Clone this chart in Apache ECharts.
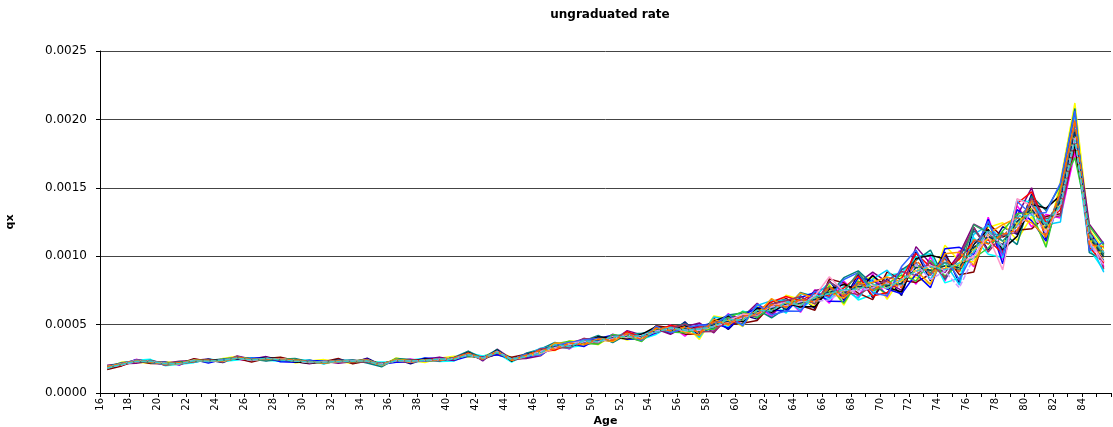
<!DOCTYPE html>
<html>
<head>
<meta charset="utf-8">
<title>ungraduated rate</title>
<script src="https://cdn.jsdelivr.net/npm/echarts@6/dist/echarts.min.js"></script>
<style>
  html, body { margin: 0; padding: 0; background: #fff; }
  #chart { width: 1113px; height: 427px; }
</style>
</head>
<body>
<div id="chart"></div>
<script>
// Ages 16..85 (one category per age)
const ages = [16,17,18,19,20,21,22,23,24,25,26,27,28,29,30,31,32,33,34,35,36,37,38,39,40,
  41,42,43,44,45,46,47,48,49,50,51,52,53,54,55,56,57,58,59,60,61,62,63,64,65,66,67,68,69,70,
  71,72,73,74,75,76,77,78,79,80,81,82,83,84,85];

// Tick labels shown under the axis (every second age)
const ageTicks = [16,18,20,22,24,26,28,30,32,34,36,38,40,42,44,46,48,50,52,54,56,58,60,62,64,66,68,70,72,74,76,78,80,82,84];

// Y axis ticks
const qxTicks = [0, 0.0005, 0.0010, 0.0015, 0.0020, 0.0025];

// Ungraduated rates per simulation, in millionths (value * 1e-6 = qx)
const sim01 = [176,218,228,240,208,229,226,242,222,262,252,238,251,226,242,218,246,222,254,204,248,214,250,238,264,272,260,282,254,264,324,322,370,344,413,390,444,385,476,437,520,414,545,465,570,540,683,607,710,617,820,680,868,695,835,712,1033,820,1030,802,1210,1045,1215,1160,1455,1125,1490,2040,1078,1065];
const sim02 = [196,200,246,222,222,205,248,228,246,246,234,264,235,248,220,240,222,244,222,220,230,248,228,260,240,300,240,312,232,290,280,362,322,388,361,430,400,433,436,497,415,502,455,580,495,645,557,695,590,755,657,818,705,870,697,913,795,995,817,1040,922,1285,975,1370,1215,1305,1280,1760,1208,922];
const sim03 = [184,226,224,218,228,221,242,224,252,268,230,256,259,220,234,244,230,216,244,196,256,238,222,254,268,264,268,308,260,256,312,310,382,376,353,420,388,417,488,449,500,392,563,545,485,635,595,715,685,635,795,643,830,845,685,850,845,795,1080,965,960,1210,1245,1115,1290,1080,1550,2120,1195,1052];
const sim04 = [190,206,240,246,200,211,222,250,230,242,258,242,231,242,240,212,240,238,226,226,226,242,254,230,234,292,270,292,226,280,316,348,334,348,401,372,432,393,428,489,450,477,520,485,600,560,658,583,723,718,683,780,680,720,860,875,995,1020,805,840,1135,1015,990,1415,1395,1260,1355,1840,1052,896];
const sim05 = [202,214,218,234,218,233,238,248,226,270,246,266,242,230,214,232,218,230,248,200,244,226,246,262,244,304,234,320,248,252,272,354,360,396,391,380,456,425,468,429,485,512,440,560,555,655,575,665,623,750,770,705,805,883,810,750,1070,945,880,1015,1235,1180,1035,1295,1500,1155,1460,1980,1234,1091];
const sim06 = [172,198,236,216,214,215,250,232,240,252,226,252,261,238,222,228,252,214,234,214,236,234,234,242,256,278,246,286,262,284,308,318,374,356,369,412,408,381,492,477,430,432,535,500,510,530,645,690,640,605,833,805,730,683,885,825,808,870,1005,865,885,1240,1140,1190,1200,1290,1310,1800,1156,961];
const sim07 = [194,222,232,238,204,225,230,238,248,260,248,234,247,252,228,216,236,242,220,192,252,244,242,234,260,305,254,318,236,290,320,370,342,380,421,368,428,437,448,473,510,442,475,570,585,610,550,620,735,700,720,843,893,795,723,900,970,1045,830,990,1185,1090,1170,1085,1440,1335,1520,2080,1026,974];
const sim08 = [180,208,244,226,226,207,244,220,244,248,254,260,229,224,236,236,224,234,240,210,224,226,256,250,238,268,264,280,250,260,288,326,366,340,397,424,392,397,440,485,460,492,510,475,565,625,608,595,698,735,670,668,843,820,760,725,870,770,1055,1065,1010,1270,945,1340,1260,1110,1430,1880,1182,1026];
const sim09 = [193,211,228,236,211,218,227,240,235,266,240,248,250,235,222,234,238,224,243,203,247,224,235,250,251,290,245,302,249,274,328,342,326,392,377,408,440,421,480,453,495,407,555,535,500,640,675,680,605,705,808,755,693,833,898,775,945,833,955,790,1160,1225,1110,1220,1410,1230,1250,2020,1104,883];
const sim10 = [187,219,236,222,216,224,235,231,245,261,251,247,247,240,232,224,227,237,239,215,236,233,232,242,256,272,255,308,236,280,292,358,378,364,357,428,412,377,472,445,440,467,465,550,595,550,633,633,685,655,783,655,818,745,798,863,820,970,855,940,985,1060,1185,1310,1320,1065,1505,1720,1221,1078];
const sim11 = [190,202,242,231,205,215,240,238,232,257,237,256,243,243,229,230,236,227,232,205,243,238,244,251,243,286,259,298,243,270,304,314,354,384,405,384,448,409,452,493,480,482,485,510,530,600,665,705,673,730,708,768,855,708,735,838,1020,920,905,978,1110,1120,1020,1385,1470,1245,1340,1960,1065,948];
const sim12 = [183,213,232,227,214,222,233,244,237,251,243,259,249,229,218,228,241,229,237,212,241,227,249,240,252,296,248,314,233,282,312,350,338,372,409,404,396,429,484,457,490,462,525,565,520,620,590,655,630,630,758,793,755,858,773,738,983,1008,980,890,1085,1195,1050,1145,1380,1350,1445,1820,1169,1013];
const sim13 = [194,207,238,233,209,210,237,233,239,262,246,245,251,238,228,218,231,232,244,201,245,235,238,246,246,280,254,294,247,276,284,366,362,352,389,376,436,389,464,481,445,422,540,495,575,575,690,625,730,693,733,693,793,808,848,813,895,795,1018,1028,935,1165,1230,1280,1245,1140,1475,2000,1091,1039];
const sim14 = [185,217,227,237,218,213,229,241,228,265,235,254,239,241,219,232,230,223,230,216,234,223,242,236,258,292,250,304,238,260,324,330,330,400,373,416,404,413,444,469,505,447,450,540,560,565,650,675,705,650,815,743,718,783,823,888,858,958,843,1003,1210,1030,1155,1175,1425,1275,1295,1860,1195,909];
const sim15 = [188,215,241,225,207,220,238,229,243,254,249,252,250,232,234,223,239,234,233,213,239,231,233,248,248,278,257,308,244,284,276,346,370,388,401,392,424,385,488,441,475,497,495,575,490,650,570,600,598,743,695,830,880,733,710,925,1045,858,993,828,1035,1255,1005,1400,1305,1320,1535,2060,1039,1104];
const sim16 = [181,210,234,230,221,217,241,236,230,258,242,249,245,245,225,226,234,226,236,208,249,230,240,244,250,284,252,300,242,272,300,338,350,368,385,400,420,405,460,465,470,452,500,520,545,590,620,645,660,680,745,730,780,770,785,800,920,895,930,915,1060,1150,1080,1250,1350,1200,1400,1920,1130,1000];
const sim17 = [190,212,236,233,214,216,235,238,234,256,241,252,246,237,224,228,232,230,238,207,241,229,239,246,252,286,250,302,244,270,290,325,360,378,372,412,405,420,448,478,455,470,488,530,575,570,640,660,640,710,850,740,760,790,765,830,890,930,900,950,1000,1150,900,1420,1370,1180,1380,1940,1110,960];
const sim18 = [186,209,233,229,211,218,233,235,237,257,243,251,244,235,227,225,235,229,235,209,239,231,241,243,249,283,253,299,243,273,306,332,344,376,378,394,428,400,454,472,462,460,492,528,536,598,612,655,650,690,735,740,880,760,800,790,940,880,955,900,1230,1170,1110,1220,1330,1230,1420,1930,1150,1010];
const sim19 = [184,211,237,231,216,219,231,234,239,262,239,253,241,238,230,222,236,227,240,211,237,233,236,247,254,281,249,297,246,275,310,348,342,378,376,412,430,416,448,478,458,468,515,505,560,575,640,630,680,668,765,715,800,755,810,785,955,870,965,890,1100,1175,1140,1275,1380,1225,1440,1950,1160,1025];
const sim20 = [191,208,231,233,210,215,236,237,234,255,244,248,247,234,225,229,232,231,233,206,242,228,242,242,248,288,255,303,240,269,294,330,358,360,392,394,414,398,470,458,480,445,492,530,538,602,610,656,648,692,732,742,768,782,772,822,898,912,915,938,1045,1130,1090,1240,1340,1190,1390,1900,1120,990];
const sim21 = [189,207,232,234,212,220,232,239,235,257,245,249,243,239,228,227,236,225,237,210,238,232,238,245,251,282,254,298,244,271,299,340,348,370,383,402,419,407,458,467,468,454,498,522,543,592,618,647,658,683,742,733,778,772,783,802,918,898,928,918,1065,1145,1085,1255,1345,1205,1405,1915,1135,995];
const sim22 = [185,206,230,230,215,217,237,235,238,256,240,252,249,236,223,230,233,232,234,212,236,234,237,243,253,280,251,301,245,268,304,332,352,374,377,396,426,401,454,471,462,458,488,515,550,582,630,640,668,670,680,750,745,770,805,780,940,830,890,770,990,1180,1075,1215,1315,1170,1370,1870,1100,930];
const sim23 = [192,214,238,226,211,222,230,240,233,260,246,247,248,240,231,223,237,226,239,207,243,226,243,240,255,290,247,305,239,277,312,322,364,354,395,388,432,391,476,455,485,440,520,508,562,575,645,630,685,665,775,710,810,750,815,770,970,865,980,885,1120,1090,1160,1190,1410,1140,1480,1990,1085,1070];
const sim24 = [183,209,233,232,213,214,235,233,240,254,243,254,242,234,228,225,231,233,235,204,238,232,239,248,247,279,256,296,246,266,292,354,340,382,375,414,410,419,444,477,458,468,485,540,530,605,600,665,640,700,728,755,760,795,765,830,890,925,900,950,1030,1190,1060,1290,1300,1240,1370,1850,1165,1026];

const simulations = [sim01,sim02,sim03,sim04,sim05,sim06,sim07,sim08,sim09,sim10,sim11,sim12,
  sim13,sim14,sim15,sim16,sim17,sim18,sim19,sim20,sim21,sim22,sim23,sim24];

// Classic spreadsheet line palette
const lineColors = ['#000080','#FF00FF','#FFFF00','#00FFFF','#800080','#800000','#008080','#0000FF',
  '#00CCFF','#33CC33','#FF0000','#000000','#FF9900','#993366','#3366FF','#99CC00',
  '#FF99CC','#339966','#666699','#FFCC00','#003366','#CC99FF','#FF6600','#33CCCC'];

const FONT = 'DejaVu Sans';

const series = simulations.map((vals, i) => ({
  name: 'sim' + (i + 1),
  type: 'line',
  xAxisIndex: 0,
  data: vals.map(v => v * 1e-6),
  symbol: 'none',
  silent: true,
  lineStyle: {
    color: lineColors[i % lineColors.length],
    width: 1.5,
    type: i >= 18 ? [5, 2] : 'solid'
  }
}));

const chart = echarts.init(document.getElementById('chart'), null, { renderer: 'canvas' });
chart.setOption({
  animation: false,
  backgroundColor: '#ffffff',
  title: {
    text: 'ungraduated rate',
    left: 605,
    top: 4,
    textAlign: 'center',
    textStyle: { fontFamily: FONT, fontSize: 12, fontWeight: 'bold', color: '#000' }
  },
  grid: { left: 100, right: 2, top: 51, bottom: 34, containLabel: false, outerBoundsMode: 'none' },
  xAxis: [
    {
      // category axis carrying the data; ticks on the age boundaries
      type: 'category',
      data: ages,
      boundaryGap: true,
      position: 'bottom',
      name: 'Age',
      nameLocation: 'middle',
      nameGap: 23,
      nameTextStyle: { fontFamily: FONT, fontSize: 11, fontWeight: 'bold', color: '#000' },
      axisLine: { show: true, lineStyle: { color: '#000', width: 1 } },
      axisTick: { show: true, interval: 0, inside: false, length: 4, lineStyle: { color: '#000' } },
      axisLabel: { show: false },
      splitLine: { show: false }
    },
    {
      // label axis: ages written at the start of each category band
      type: 'value',
      position: 'bottom',
      min: 16,
      max: 86,
      interval: 2,
      axisLine: { show: false },
      axisTick: { show: false },
      splitLine: { show: false },
      axisLabel: {
        rotate: 90,
        margin: 5,
        fontFamily: FONT,
        fontSize: 10,
        color: '#000',
        formatter: v => (ageTicks.indexOf(v) >= 0 ? String(v) : '')
      }
    }
  ],
  yAxis: {
    type: 'value',
    min: qxTicks[0],
    max: qxTicks[qxTicks.length - 1],
    interval: 0.0005,
    name: 'qx',
    nameLocation: 'middle',
    nameRotate: 90,
    nameGap: 84,
    nameTextStyle: { fontFamily: FONT, fontSize: 11, fontWeight: 'bold', color: '#000' },
    axisLine: { show: true, lineStyle: { color: '#000', width: 1 } },
    axisTick: { show: true, inside: false, length: 4, lineStyle: { color: '#000' } },
    axisLabel: {
      margin: 13,
      fontFamily: FONT,
      fontSize: 12,
      color: '#000',
      formatter: v => v.toFixed(4)
    },
    splitLine: { show: true, lineStyle: { color: '#444', width: 1 } }
  },
  series: series
});
</script>
</body>
</html>
